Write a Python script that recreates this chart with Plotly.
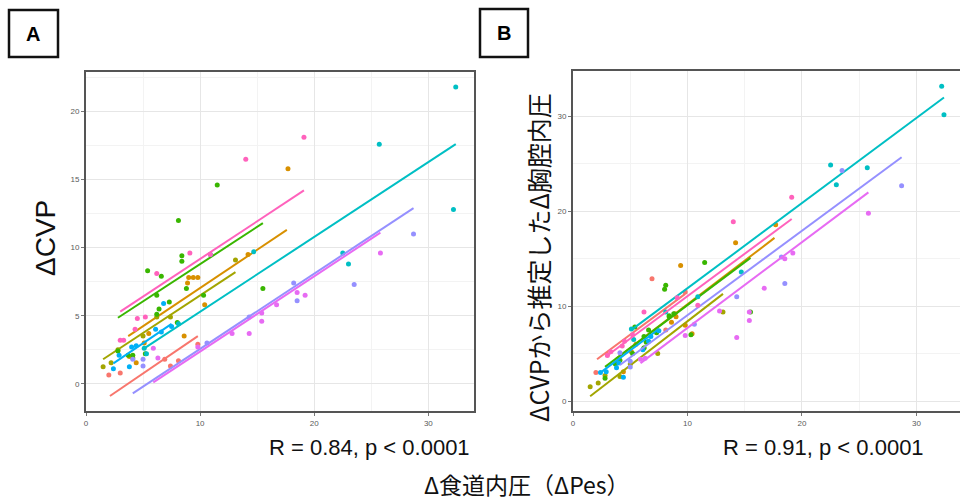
import plotly.graph_objects as go

# ---- data ----
group_colors = ["#F8766D", "#D89000", "#A3A500", "#39B600", "#00BFC4",
                "#00B0F6", "#9590FF", "#E76BF3", "#FF62BC"]

# shared x (ΔPes) per group
x_red = [2.0, 3.0, 6.9, 7.4, 8.1, 9.8]
x_orange = [3.8, 4.4, 5.1, 5.5, 8.6, 8.9, 9.0, 9.4, 9.8, 10.4, 14.2, 17.7]
x_olive = [1.5, 2.2, 2.8, 4.1, 5.0, 6.2, 7.4, 13.1]
x_green = [2.8, 3.7, 4.1, 5.2, 5.4, 6.2, 6.2, 6.4, 6.6, 7.3, 8.0, 8.1, 8.4, 8.4, 8.8, 10.3, 11.5, 15.5]
x_teal = [5.1, 5.3, 8.1, 10.9, 14.7, 22.5, 23.0, 25.7, 32.2, 32.4]
x_cyan = [2.4, 2.9, 3.8, 4.0, 4.4, 6.1, 6.6, 6.8, 7.5]
x_blue = [4.1, 5.0, 5.0, 10.6, 14.3, 18.2, 18.5, 23.5, 28.7]
x_purple = [5.9, 6.3, 9.8, 12.8, 14.3, 15.4, 15.4, 16.7, 18.5, 19.2, 25.8]
x_pink = [3.0, 3.3, 4.3, 4.5, 5.2, 6.2, 9.1, 10.9, 14.0, 19.1]

# Panel A: ΔCVP
a_red = [0.65, 0.8, 1.8, 1.3, 1.7, 2.9]
a_orange = [2.0, 1.55, 3.0, 3.7, 3.5, 7.4, 7.8, 7.8, 7.8, 5.8, 9.5, 15.8]
a_olive = [1.25, 1.55, 2.5, 1.9, 3.5, 4.9, 4.9, 9.1]
a_green = [2.4, 2.1, 2.1, 2.2, 8.3, 6.5, 5.1, 5.5, 7.9, 6.0, 4.5, 12.0, 9.4, 9.0, 7.0, 6.5, 14.6, 7.0]
a_teal = [2.6, 2.2, 4.4, 9.5, 9.7, 9.6, 8.8, 17.6, 12.8, 21.8]
a_cyan = [1.1, 2.1, 1.25, 2.7, 2.8, 4.0, 3.8, 5.9, 4.2]
a_blue = [1.8, 1.8, 1.3, 3.0, 4.9, 7.4, 6.1, 7.3, 11.0]
a_purple = [2.6, 1.9, 2.7, 3.7, 3.7, 5.2, 4.6, 5.8, 6.7, 6.5, 9.6]
a_pink = [3.2, 3.2, 4.0, 4.8, 4.9, 8.1, 9.6, 9.5, 16.5, 18.1]

# Panel B: estimated Δ intrathoracic pressure from ΔCVP
b_red = [3.0, 4.9, 12.9, 7.4, 7.5, 11.5]
b_orange = [4.0, 3.1, 5.2, 6.0, 8.3, 9.2, 8.9, 14.3, 8.0, 7.1, 16.7, 18.6]
b_olive = [1.5, 1.9, 2.7, 2.6, 3.9, 5.6, 5.0, 9.4]
b_green = [2.4, 3.9, 4.3, 5.0, 7.8, 6.8, 5.6, 6.2, 7.5, 7.2, 11.8, 12.2, 9.0, 8.9, 9.2, 7.0, 14.6, 9.4]
b_teal = [7.6, 6.5, 9.4, 11.0, 13.6, 24.9, 22.8, 24.6, 33.2, 30.2]
b_cyan = [3.0, 3.1, 3.5, 4.0, 2.5, 5.4, 6.3, 6.8, 7.4]
b_blue = [5.1, 4.2, 3.6, 8.1, 11.0, 15.2, 12.4, 24.3, 22.7]
b_purple = [4.4, 4.5, 6.9, 9.5, 6.7, 9.4, 8.5, 11.9, 15.0, 15.6, 19.8]
b_pink = [4.8, 5.2, 5.8, 6.3, 7.0, 9.4, 10.9, 10.1, 18.9, 21.5]

# regression line endpoints per group (x0, x1) and (y0, y1)
fit_x0 = [2.1, 3.7, 1.5, 2.8, 5.1, 2.4, 4.1, 5.9, 3.0]
fit_x1 = [9.8, 17.6, 13.1, 15.5, 32.4, 7.5, 28.7, 25.8, 19.1]
fit_a_y0 = [-0.9, 3.5, 1.8, 4.85, 2.6, 1.5, -0.7, 0.1, 5.3]
fit_a_y1 = [3.5, 11.3, 8.2, 11.8, 17.6, 4.4, 12.9, 11.1, 14.2]
fit_b_y0 = [4.4, 4.4, 0.5, 3.6, 7.5, 3.0, 3.8, 4.0, 4.8]
fit_b_y1 = [11.3, 17.2, 11.3, 15.1, 32.0, 7.6, 25.7, 22.0, 19.2]

xs = [x_red, x_orange, x_olive, x_green, x_teal, x_cyan, x_blue, x_purple, x_pink]
ya = [a_red, a_orange, a_olive, a_green, a_teal, a_cyan, a_blue, a_purple, a_pink]
yb = [b_red, b_orange, b_olive, b_green, b_teal, b_cyan, b_blue, b_purple, b_pink]

r_text_a = "R = 0.84, p < 0.0001"
r_text_b = "R = 0.91, p < 0.0001"
ylabel_a = "ΔCVP"
ylabel_b = "ΔCVPから推定したΔ胸腔内圧"
xlabel = "Δ食道内圧（ΔPes）"

fig = go.Figure()
for i, col in enumerate(group_colors):
    for xa, ykey, yvals, fy0, fy1 in (("x", "y", ya[i], fit_a_y0, fit_a_y1),
                                      ("x2", "y2", yb[i], fit_b_y0, fit_b_y1)):
        fig.add_trace(go.Scatter(x=[fit_x0[i], fit_x1[i]], y=[fy0[i], fy1[i]], mode="lines",
                                 line=dict(color=col, width=2), xaxis=xa, yaxis=ykey,
                                 showlegend=False, hoverinfo="skip"))
        fig.add_trace(go.Scatter(x=xs[i], y=yvals, mode="markers",
                                 marker=dict(color=col, size=5), xaxis=xa, yaxis=ykey,
                                 showlegend=False))

tickfont = dict(size=8, color="#5a5a5a", family="Liberation Sans")
grid_major = "#E6E6E6"
grid_minor = "#F3F3F3"

def xax(domain, rng, anchor):
    return dict(domain=domain, range=rng, tickvals=[0, 10, 20, 30], ticks="outside", ticklen=3,
                tickcolor="#777", tickfont=tickfont, showgrid=True, gridcolor=grid_major,
                minor=dict(dtick=5, tick0=0, showgrid=True, gridcolor=grid_minor),
                showline=True, linecolor="#555", linewidth=2, mirror=True, zeroline=False,
                automargin=False, anchor=anchor)

def yax(domain, rng, tv, minor, anchor):
    return dict(domain=domain, range=rng, tickvals=tv, ticks="outside", ticklen=3,
                tickcolor="#777", tickfont=tickfont, showgrid=True, gridcolor=grid_major,
                minor=dict(dtick=minor, tick0=0, showgrid=True, gridcolor=grid_minor),
                showline=True, linecolor="#555", linewidth=2, mirror=True, zeroline=False,
                automargin=False, anchor=anchor)

W, H = 960, 502
fig.update_layout(
    width=W, height=H, margin=dict(l=0, r=0, t=0, b=0, autoexpand=False),
    paper_bgcolor="white", plot_bgcolor="white",
    xaxis=xax([86 / W, 474 / W], [0, 34], "y"),
    yaxis=yax([1 - 411 / H, 1 - 72 / H], [-2, 22.9], [0, 5, 10, 15, 20], 2.5, "x"),
    xaxis2=xax([573 / W, 1.0], [0, 33.8], "y2"),
    yaxis2=yax([1 - 411 / H, 1 - 71 / H], [-1.05, 34.8], [0, 10, 20, 30], 5, "x2"),
)

bigfont = "Noto Sans CJK JP"
ann = [
    dict(x=45 / W, y=1 - 238 / H, text=ylabel_a, textangle=-90, font=dict(size=28, family="Liberation Sans", color="#111")),
    dict(x=538 / W, y=1 - 258 / H, text=ylabel_b, textangle=-90, font=dict(size=25, family=bigfont, color="#111")),
    dict(x=472 / W, y=1 - 447 / H, text=r_text_a, xanchor="right", font=dict(size=22, family="Liberation Sans", color="#111")),
    dict(x=926 / W, y=1 - 447 / H, text=r_text_b, xanchor="right", font=dict(size=22, family="Liberation Sans", color="#111")),
    dict(x=527 / W, y=1 - 484 / H, text=xlabel, font=dict(size=23, family=bigfont, color="#111")),
    dict(x=33 / W, y=1 - 34 / H, text="<b>A</b>", font=dict(size=20, family="Liberation Sans", color="#000")),
    dict(x=504 / W, y=1 - 33 / H, text="<b>B</b>", font=dict(size=20, family="Liberation Sans", color="#000")),
]
for a in ann:
    a.update(xref="paper", yref="paper", showarrow=False)
    a.setdefault("xanchor", "center")
    a["yanchor"] = "middle"
fig.update_layout(annotations=ann)

fig.update_layout(shapes=[
    dict(type="rect", xref="paper", yref="paper", x0=9 / W, x1=58 / W, y0=1 - 57 / H, y1=1 - 10 / H,
         line=dict(color="#111", width=2.5)),
    dict(type="rect", xref="paper", yref="paper", x0=480 / W, x1=528 / W, y0=1 - 57 / H, y1=1 - 9 / H,
         line=dict(color="#111", width=2.5)),
])

fig.write_html("out.html", config={"displayModeBar": False},
               post_script="document.body.style.margin='0';document.body.style.overflow='hidden';")
